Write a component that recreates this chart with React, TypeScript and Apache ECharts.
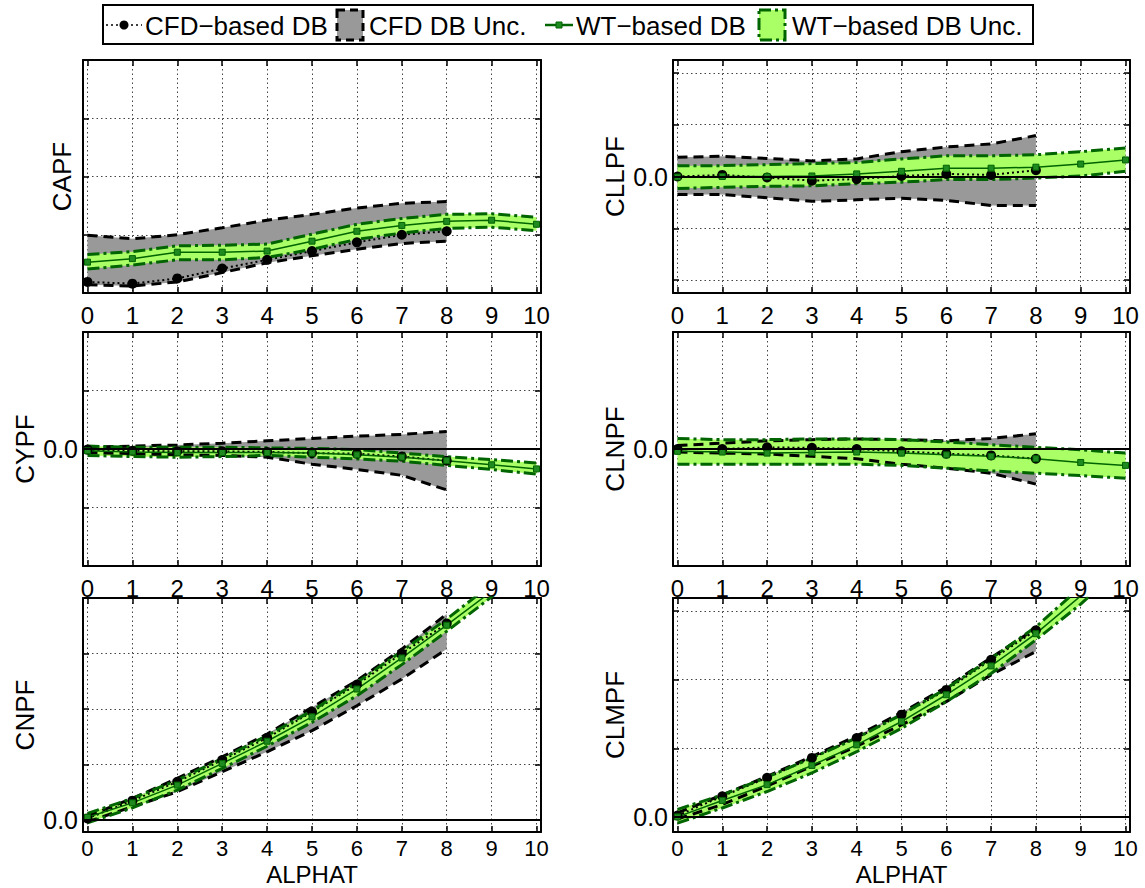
import React, { useEffect, useRef } from 'react';
import * as echarts from 'echarts';

// ---------- data ----------
const ALPHAT_CFD = [0, 1, 2, 3, 4, 5, 6, 7, 8];
const ALPHAT_WT = [0, 1, 2, 3, 4, 5, 6, 7, 8, 9, 10];
const X_TICKS = [0, 1, 2, 3, 4, 5, 6, 7, 8, 9, 10];

const CAPF_CFD = [0.19, 0.16, 0.25, 0.42, 0.57, 0.72, 0.87, 1.0, 1.06];
const CAPF_CFD_HI = [0.99, 0.93, 1.0, 1.12, 1.25, 1.35, 1.46, 1.54, 1.57];
const CAPF_CFD_LO = [0.14, 0.12, 0.19, 0.35, 0.52, 0.64, 0.75, 0.85, 0.89];
const CAPF_WT = [0.53, 0.59, 0.7, 0.7, 0.72, 0.89, 1.06, 1.16, 1.23, 1.25, 1.18];
const CAPF_WT_HI = [0.66, 0.71, 0.81, 0.82, 0.84, 1.01, 1.18, 1.28, 1.35, 1.36, 1.3];
const CAPF_WT_LO = [0.41, 0.48, 0.57, 0.57, 0.61, 0.75, 0.92, 1.03, 1.11, 1.13, 1.07];
const CAPF_TICKS = [0, 1, 2, 3, 4];

const CLLPF_CFD = [0, 0.03, -0.02, -0.08, -0.05, 0.01, 0.05, 0.03, 0.12];
const CLLPF_CFD_HI = [0.37, 0.39, 0.35, 0.3, 0.34, 0.48, 0.57, 0.63, 0.79];
const CLLPF_CFD_LO = [-0.35, -0.35, -0.41, -0.48, -0.45, -0.42, -0.46, -0.56, -0.56];
const CLLPF_WT = [-0.01, 0, 0, 0.01, 0.05, 0.1, 0.16, 0.16, 0.18, 0.24, 0.32];
const CLLPF_WT_HI = [0.21, 0.21, 0.23, 0.25, 0.27, 0.34, 0.4, 0.4, 0.42, 0.48, 0.55];
const CLLPF_WT_LO = [-0.23, -0.21, -0.19, -0.18, -0.14, -0.11, -0.06, -0.06, -0.03, 0.01, 0.1];
const CLLPF_TICKS = [-2, -1, 0, 1, 2];

const CYPF_CFD = [-0.01, -0.03, -0.04, -0.04, -0.05, -0.07, -0.08, -0.13, -0.2];
const CYPF_CFD_HI = [0.03, 0.05, 0.07, 0.1, 0.14, 0.18, 0.22, 0.25, 0.3];
const CYPF_CFD_LO = [-0.06, -0.08, -0.1, -0.11, -0.14, -0.26, -0.35, -0.45, -0.7];
const CYPF_WT = [-0.03, -0.05, -0.06, -0.06, -0.06, -0.07, -0.1, -0.14, -0.2, -0.27, -0.34];
const CYPF_WT_HI = [0.05, 0.03, 0.03, 0.03, 0.02, 0.01, -0.01, -0.07, -0.13, -0.18, -0.24];
const CYPF_WT_LO = [-0.11, -0.13, -0.14, -0.13, -0.11, -0.14, -0.17, -0.21, -0.28, -0.35, -0.43];
const CYPF_TICKS = [-2, -1, 0, 1, 2];

const CLNPF_CFD = [0, 0, 0.014, 0.01, 0, -0.02, -0.04, -0.055, -0.083];
const CLNPF_CFD_HI = [0.03, 0.05, 0.07, 0.08, 0.086, 0.08, 0.07, 0.09, 0.13];
const CLNPF_CFD_LO = [-0.026, -0.035, -0.043, -0.063, -0.083, -0.13, -0.164, -0.207, -0.3];
const CLNPF_WT = [-0.02, -0.026, -0.035, -0.029, -0.026, -0.035, -0.05, -0.063, -0.083, -0.115, -0.14];
const CLNPF_WT_HI = [0.09, 0.08, 0.08, 0.086, 0.086, 0.08, 0.06, 0.037, 0.014, -0.006, -0.035];
const CLNPF_WT_LO = [-0.13, -0.13, -0.13, -0.13, -0.13, -0.14, -0.164, -0.187, -0.207, -0.227, -0.25];
const CLNPF_TICKS = [0];

const CNPF_CFD = [0.03, 0.35, 0.69, 1.08, 1.48, 1.95, 2.44, 3.0, 3.54];
const CNPF_CFD_HI = [0.07, 0.39, 0.75, 1.14, 1.55, 2.03, 2.51, 3.08, 3.71];
const CNPF_CFD_LO = [-0.03, 0.24, 0.51, 0.87, 1.23, 1.61, 2.06, 2.54, 3.08];
const CNPF_WT = [0.05, 0.31, 0.63, 1.02, 1.42, 1.86, 2.36, 2.92, 3.51, 4.12, 4.8];
const CNPF_WT_HI = [0.12, 0.39, 0.72, 1.11, 1.52, 1.97, 2.48, 3.04, 3.62, 4.25, 4.95];
const CNPF_WT_LO = [-0.05, 0.22, 0.54, 0.93, 1.33, 1.76, 2.24, 2.8, 3.4, 4.02, 4.7];
const CNPF_TICKS = [0, 1, 2, 3, 4];

const CLMPF_CFD = [0.02, 0.3, 0.57, 0.86, 1.15, 1.49, 1.85, 2.29, 2.72];
const CLMPF_CFD_HI = [0.06, 0.32, 0.59, 0.88, 1.18, 1.52, 1.89, 2.32, 2.75];
const CLMPF_CFD_LO = [-0.03, 0.18, 0.45, 0.74, 1.03, 1.34, 1.68, 2.07, 2.41];
const CLMPF_WT = [0, 0.24, 0.47, 0.75, 1.05, 1.39, 1.78, 2.2, 2.67, 3.22, 3.85];
const CLMPF_WT_HI = [0.11, 0.32, 0.58, 0.86, 1.15, 1.49, 1.87, 2.31, 2.77, 3.35, 4.0];
const CLMPF_WT_LO = [-0.09, 0.13, 0.37, 0.64, 0.95, 1.29, 1.68, 2.09, 2.58, 3.1, 3.7];
const CLMPF_TICKS = [0, 1, 2, 3];

const LEGEND_LABELS = ['CFD−based DB', 'CFD DB Unc.', 'WT−based DB', 'WT−based DB Unc.'];

// ---------- styles ----------
const FONT = '"Liberation Sans", Arial, Helvetica, sans-serif';
const CFD_BAND = '#999999';
const WT_BAND = '#aaff66';
const WT_DARK = '#006400';
const GRID_LINE = { type: [1.5, 3], color: '#444', width: 1 };
const AXIS_LINE = { show: true, onZero: false, lineStyle: { color: '#000', width: 2 } };
const DASH = [10, 6];
const DASH_DOT = [12, 4, 3, 4];

type Panel = {
  name: string;
  cfd: number[]; cfdLo: number[]; cfdHi: number[];
  wt: number[]; wtLo: number[]; wtHi: number[];
  yMin: number; yMax: number; yTicks: number[];
  zero: boolean; nameGap: number;
};

const PANELS: Panel[] = [
  { name: 'CAPF', cfd: CAPF_CFD, cfdLo: CAPF_CFD_LO, cfdHi: CAPF_CFD_HI, wt: CAPF_WT, wtLo: CAPF_WT_LO, wtHi: CAPF_WT_HI, yMin: 0, yMax: 4, yTicks: CAPF_TICKS, zero: false, nameGap: 8 },
  { name: 'CLLPF', cfd: CLLPF_CFD, cfdLo: CLLPF_CFD_LO, cfdHi: CLLPF_CFD_HI, wt: CLLPF_WT, wtLo: CLLPF_WT_LO, wtHi: CLLPF_WT_HI, yMin: -2.25, yMax: 2.25, yTicks: CLLPF_TICKS, zero: true, nameGap: 45 },
  { name: 'CYPF', cfd: CYPF_CFD, cfdLo: CYPF_CFD_LO, cfdHi: CYPF_CFD_HI, wt: CYPF_WT, wtLo: CYPF_WT_LO, wtHi: CYPF_WT_HI, yMin: -2, yMax: 2, yTicks: CYPF_TICKS, zero: true, nameGap: 45 },
  { name: 'CLNPF', cfd: CLNPF_CFD, cfdLo: CLNPF_CFD_LO, cfdHi: CLNPF_CFD_HI, wt: CLNPF_WT, wtLo: CLNPF_WT_LO, wtHi: CLNPF_WT_HI, yMin: -1, yMax: 1, yTicks: CLNPF_TICKS, zero: true, nameGap: 45 },
  { name: 'CNPF', cfd: CNPF_CFD, cfdLo: CNPF_CFD_LO, cfdHi: CNPF_CFD_HI, wt: CNPF_WT, wtLo: CNPF_WT_LO, wtHi: CNPF_WT_HI, yMin: -0.215, yMax: 4, yTicks: CNPF_TICKS, zero: true, nameGap: 45 },
  { name: 'CLMPF', cfd: CLMPF_CFD, cfdLo: CLMPF_CFD_LO, cfdHi: CLMPF_CFD_HI, wt: CLMPF_WT, wtLo: CLMPF_WT_LO, wtHi: CLMPF_WT_HI, yMin: -0.22, yMax: 3.19, yTicks: CLMPF_TICKS, zero: true, nameGap: 45 },
];

const COL_LEFT = [83, 673];
const COL_WIDTH = [458, 457];
const ROW_TOP = [60, 332, 598];
const ROW_HEIGHT = [233, 234, 234];

const pairs = (xs: number[], ys: number[]) => xs.map((x, k) => [x, ys[k]]);

function bandSeries(i: number, xs: number[], lo: number[], hi: number[], fill: string) {
  return {
    type: 'custom',
    xAxisIndex: 2 * i,
    yAxisIndex: 2 * i,
    clip: true,
    silent: true,
    data: xs.map((x, k) => [x, lo[k], hi[k]]),
    encode: { x: 0, y: [1, 2] },
    renderItem: (params: any, api: any) => {
      if (params.dataIndex !== 0) return null;
      const pts: number[][] = [];
      for (let k = 0; k < xs.length; k++) pts.push(api.coord([xs[k], hi[k]]));
      for (let k = xs.length - 1; k >= 0; k--) pts.push(api.coord([xs[k], lo[k]]));
      return { type: 'polygon', shape: { points: pts }, style: { fill, stroke: 'none' } };
    },
  };
}

function lineSeries(i: number, xs: number[], ys: number[], extra: any) {
  return {
    type: 'line',
    xAxisIndex: 2 * i,
    yAxisIndex: 2 * i,
    data: pairs(xs, ys),
    clip: true,
    silent: true,
    symbol: 'none',
    ...extra,
  };
}

function buildOption() {
  const grid: any[] = [];
  const xAxis: any[] = [];
  const yAxis: any[] = [];
  const series: any[] = [];

  PANELS.forEach((p, i) => {
    const col = i % 2;
    const row = Math.floor(i / 2);
    const last = row === 2;
    grid.push({
      left: COL_LEFT[col],
      top: ROW_TOP[row],
      width: COL_WIDTH[col],
      height: ROW_HEIGHT[row],
      outerBoundsMode: 'none',
      containLabel: false,
    });
    const xBase = { type: 'value', gridIndex: i, min: -0.1, max: 10.1 };
    const tick = { show: true, inside: true, length: 6, customValues: X_TICKS, lineStyle: { color: '#000', width: 1.5 } };
    xAxis.push({
      ...xBase,
      position: 'bottom',
      axisLine: AXIS_LINE,
      axisTick: tick,
      axisLabel: {
        show: true,
        customValues: X_TICKS,
        margin: last ? 5 : 10,
        fontSize: last ? 22 : 24,
        color: '#000',
        fontFamily: FONT,
      },
      splitLine: { show: true, lineStyle: GRID_LINE },
      name: last ? 'ALPHAT' : '',
      nameLocation: 'middle',
      nameGap: 30,
      nameMoveOverlap: false,
      nameTextStyle: { fontSize: 24, color: '#000', fontFamily: FONT, verticalAlign: 'top' },
    });
    xAxis.push({
      ...xBase,
      position: 'top',
      axisLine: AXIS_LINE,
      axisTick: tick,
      axisLabel: { show: false },
      splitLine: { show: false },
    });
    const yBase = { type: 'value', gridIndex: i, min: p.yMin, max: p.yMax };
    const ytick = { show: true, inside: true, length: 6, customValues: p.yTicks, lineStyle: { color: '#000', width: 1.5 } };
    yAxis.push({
      ...yBase,
      position: 'left',
      axisLine: AXIS_LINE,
      axisTick: ytick,
      axisLabel: {
        show: p.zero,
        customValues: [0],
        formatter: () => '0.0',
        margin: 5,
        fontSize: 25,
        color: '#000',
        fontFamily: FONT,
      },
      splitLine: { show: true, lineStyle: GRID_LINE },
      name: p.name,
      nameLocation: 'middle',
      nameGap: p.nameGap,
      nameMoveOverlap: false,
      nameTextStyle: { fontSize: 26, color: '#000', fontFamily: FONT },
    });
    yAxis.push({
      ...yBase,
      position: 'right',
      axisLine: AXIS_LINE,
      axisTick: ytick,
      axisLabel: { show: false },
      splitLine: { show: false },
    });

    series.push(bandSeries(i, ALPHAT_CFD, p.cfdLo, p.cfdHi, CFD_BAND));
    series.push(bandSeries(i, ALPHAT_WT, p.wtLo, p.wtHi, WT_BAND));
    series.push(lineSeries(i, ALPHAT_CFD, p.cfdHi, { lineStyle: { color: '#000', width: 3, type: DASH } }));
    series.push(lineSeries(i, ALPHAT_CFD, p.cfdLo, { lineStyle: { color: '#000', width: 3, type: DASH } }));
    series.push(lineSeries(i, ALPHAT_CFD, p.cfd, {
      lineStyle: { color: '#000', width: 2, type: [2, 3] },
      symbol: 'circle',
      symbolSize: 10,
      itemStyle: { color: '#000' },
    }));
    series.push(lineSeries(i, ALPHAT_WT, p.wtHi, { lineStyle: { color: WT_DARK, width: 3, type: DASH_DOT } }));
    series.push(lineSeries(i, ALPHAT_WT, p.wtLo, { lineStyle: { color: WT_DARK, width: 3, type: DASH_DOT } }));
    series.push(lineSeries(i, ALPHAT_WT, p.wt, {
      lineStyle: { color: WT_DARK, width: 1.5 },
      symbol: 'rect',
      symbolSize: 6,
      itemStyle: { color: '#1f8a1f', borderColor: WT_DARK, borderWidth: 1 },
      markLine: p.zero
        ? {
            silent: true,
            symbol: 'none',
            label: { show: false },
            lineStyle: { color: '#000', width: 2, type: 'solid' },
            data: [{ yAxis: 0 }],
          }
        : undefined,
    }));
  });

  const ly = 25;
  const textStyle = (text: string) => ({
    text,
    fill: '#000',
    fontSize: 26,
    fontFamily: FONT,
    verticalAlign: 'middle',
    align: 'left',
  });

  const graphic = [
    { type: 'rect', shape: { x: 103, y: 5, width: 930, height: 39 }, style: { fill: '#fff', stroke: '#000', lineWidth: 2 }, z: 100 },
    { type: 'line', shape: { x1: 106, y1: ly, x2: 142, y2: ly }, style: { stroke: '#000', lineWidth: 1.5, lineDash: [2, 3] }, z: 101 },
    { type: 'circle', shape: { cx: 124, cy: ly, r: 4.5 }, style: { fill: '#000' }, z: 101 },
    { type: 'text', x: 145, y: ly + 1, style: textStyle(LEGEND_LABELS[0]), z: 101 },
    { type: 'rect', shape: { x: 337, y: 10, width: 26, height: 30 }, style: { fill: CFD_BAND, stroke: '#000', lineWidth: 3, lineDash: [8, 5] }, z: 101 },
    { type: 'text', x: 369, y: ly + 1, style: textStyle(LEGEND_LABELS[1]), z: 101 },
    { type: 'line', shape: { x1: 545, y1: ly, x2: 573, y2: ly }, style: { stroke: WT_DARK, lineWidth: 2.5 }, z: 101 },
    { type: 'rect', shape: { x: 556, y: ly - 3, width: 6, height: 6 }, style: { fill: '#1f8a1f', stroke: WT_DARK, lineWidth: 1 }, z: 102 },
    { type: 'text', x: 576, y: ly + 1, style: textStyle(LEGEND_LABELS[2]), z: 101 },
    { type: 'rect', shape: { x: 759, y: 10, width: 26, height: 30 }, style: { fill: WT_BAND, stroke: WT_DARK, lineWidth: 3, lineDash: DASH_DOT }, z: 101 },
    { type: 'text', x: 792, y: ly + 1, style: textStyle(LEGEND_LABELS[3]), z: 101 },
  ];

  return {
    animation: false,
    backgroundColor: '#fff',
    textStyle: { fontFamily: FONT },
    grid,
    xAxis,
    yAxis,
    series,
    graphic,
  };
}

export default function App() {
  const ref = useRef<HTMLDivElement>(null);
  useEffect(() => {
    document.body.style.margin = '0';
    if (!ref.current) return;
    const chart = echarts.init(ref.current, null, { renderer: 'svg' });
    chart.setOption(buildOption() as any);
    return () => chart.dispose();
  }, []);
  return <div ref={ref} style={{ width: 1145, height: 888 }} />;
}
